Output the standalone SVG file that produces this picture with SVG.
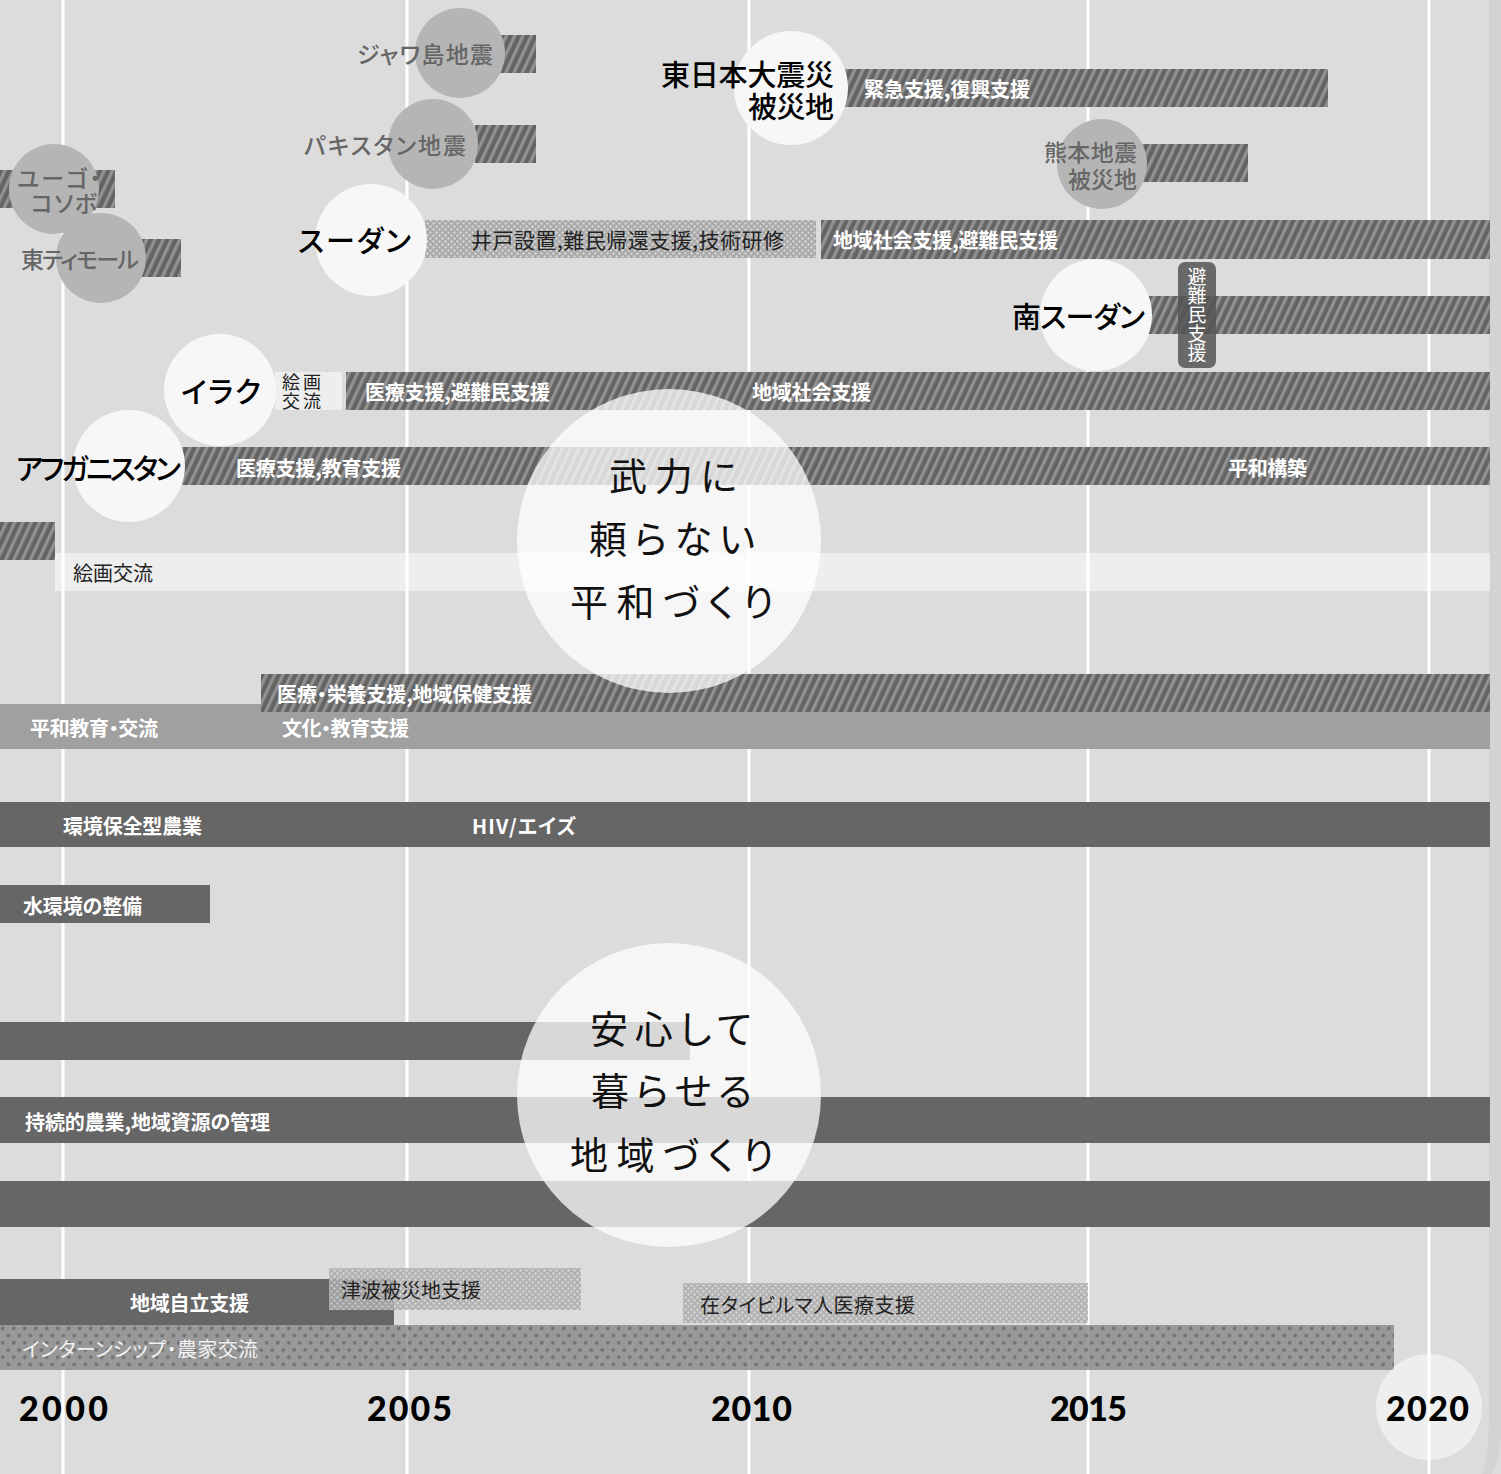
<svg xmlns="http://www.w3.org/2000/svg" width="1501" height="1474" viewBox="0 0 1501 1474">
<defs>
<style>
text{font-family:"Noto Sans CJK JP","Noto Sans CJK SC",sans-serif;dominant-baseline:central;font-feature-settings:"palt"}
#gridlines line{stroke:#fff;stroke-width:3}
.h{fill:url(#hatch)}
.d{fill:#666}
.g{fill:#a0a0a0}
.lt{fill:#fff;fill-opacity:.5}
.dl{fill:url(#dotL)}
.dlt{fill:url(#dotL);opacity:.85}
.dd{fill:url(#dotD);opacity:.85}
.wb{fill:#fff;font-weight:700;font-size:20px}
.dk{fill:#222;font-size:20px}
.gy{fill:#666;font-size:23px;font-weight:500}
.bk{fill:#000;font-size:29px;font-weight:500}
.gc{fill:#b5b5b5}
.wc{fill:#f7f7f7}
.big{fill:#fff;fill-opacity:.75}
.bt{fill:#111;font-size:38px}
.yr{font-family:Lato,"DejaVu Sans",sans-serif;font-weight:900;font-size:34px;fill:#000}
</style>
<pattern id="hatch" patternUnits="userSpaceOnUse" width="7.5" height="10" patternTransform="rotate(25)">
<rect width="7.5" height="10" fill="#646464"/>
<rect width="3.2" height="10" fill="#929292"/>
</pattern>
<pattern id="dotL" patternUnits="userSpaceOnUse" width="6" height="6">
<rect width="6" height="6" fill="#aaaaaa"/>
<circle cx="1.5" cy="1.5" r="1.2" fill="#d6d6d6"/>
<circle cx="4.5" cy="4.5" r="1.2" fill="#d6d6d6"/>
</pattern>
<pattern id="dotD" patternUnits="userSpaceOnUse" width="11" height="14.4">
<rect width="11" height="14.4" fill="#8d8d8d"/>
<circle cx="2.75" cy="3.6" r="2" fill="#626262"/>
<circle cx="8.25" cy="10.8" r="2" fill="#626262"/>
</pattern>
</defs>

<rect width="1501" height="1474" fill="#dcdcdc"/>
<path d="M1489,0 H1501 V1436 Q1499,1460 1492,1474 H1482 Q1489,1452 1489,1420 Z" fill="#d3d3d3"/>

<g id="gridlines">
<line x1="63" y1="0" x2="63" y2="1474"/>
<line x1="407" y1="0" x2="407" y2="1474"/>
<line x1="749" y1="0" x2="749" y2="1474"/>
<line x1="1088" y1="0" x2="1088" y2="1474"/>
<line x1="1429" y1="0" x2="1429" y2="1474"/>
</g>

<g id="java">
<rect class="h" x="500" y="35" width="36" height="38"/>
<circle class="gc" cx="460" cy="53" r="45"/>
<text class="gy" x="357" y="53" textLength="136">ジャワ島地震</text>
</g>

<g id="pakistan">
<rect class="h" x="475" y="125" width="61" height="38"/>
<circle class="gc" cx="433" cy="144" r="45"/>
<text class="gy" x="304" y="144" textLength="162">パキスタン地震</text>
</g>

<g id="higashi-nihon">
<rect class="h" x="845" y="69" width="483" height="38"/>
<circle class="wc" cx="791" cy="88" r="57"/>
<text class="bk"><tspan x="661" y="73" textLength="173">東日本大震災</tspan><tspan x="748" y="105" textLength="86">被災地</tspan></text>
<text class="wb" x="864" y="88" textLength="166">緊急支援,復興支援</text>
</g>

<g id="kumamoto">
<rect class="h" x="1140" y="144" width="108" height="38"/>
<circle class="gc" cx="1102" cy="164" r="45"/>
<text class="gy"><tspan x="1044" y="151" textLength="93">熊本地震</tspan><tspan x="1068" y="178" textLength="69">被災地</tspan></text>
</g>

<g id="yugo-kosovo">
<rect class="h" x="0" y="170" width="115" height="38"/>
<circle class="gc" cx="54" cy="189" r="45"/>
<text class="gy"><tspan x="17" y="177" textLength="84">ユーゴ・</tspan><tspan x="31" y="202" textLength="66">コソボ</tspan></text>
</g>

<g id="east-timor">
<rect class="h" x="135" y="239" width="46" height="38"/>
<circle class="gc" cx="101" cy="258" r="45"/>
<text class="gy" x="21" y="258" textLength="118">東ティモール</text>
</g>

<g id="sudan">
<rect class="dl" x="425" y="220" width="391" height="38"/>
<rect class="h" x="821" y="220" width="669" height="39"/>
<circle class="wc" cx="371" cy="240" r="56"/>
<text class="bk" x="298" y="239" textLength="113">スーダン</text>
<text class="dk" x="471" y="239" textLength="313" style="font-size:21px">井戸設置,難民帰還支援,技術研修</text>
<text class="wb" x="833" y="239" textLength="225">地域社会支援,避難民支援</text>
</g>

<g id="south-sudan">
<rect class="h" x="1148" y="296" width="342" height="38"/>
<circle class="wc" cx="1096" cy="315" r="56"/>
<text class="bk" x="1012" y="315" textLength="133">南スーダン</text>
<rect x="1178" y="262" width="38" height="106" rx="7" fill="#555" fill-opacity=".85"/>
<text x="1197" y="315" text-anchor="middle" style="fill:#fff;font-size:19px;writing-mode:vertical-rl;font-feature-settings:normal">避難民支援</text>
</g>

<g id="iraq">
<rect class="lt" x="275" y="372" width="67" height="38"/>
<rect class="h" x="346" y="372" width="1144" height="38"/>
<circle class="wc" cx="220" cy="390" r="56"/>
<text class="bk" x="181" y="390" textLength="80">イラク</text>
<text class="dk" style="font-size:18px"><tspan x="282" y="381" textLength="39">絵画</tspan><tspan x="282" y="400" textLength="39">交流</tspan></text>
<text class="wb" x="365" y="391" textLength="185">医療支援,避難民支援</text>
<text class="wb" x="752" y="391" textLength="119">地域社会支援</text>
</g>

<g id="afghanistan">
<rect class="h" x="180" y="447" width="1310" height="38"/>
<circle class="wc" cx="129" cy="466" r="56"/>
<text class="bk" x="16" y="467" textLength="165">アフガニスタン</text>
<text class="wb" x="236" y="467" textLength="165">医療支援,教育支援</text>
<text class="wb" x="1228" y="467" textLength="79">平和構築</text>
</g>

<g id="painting-exchange">
<rect class="h" x="0" y="522" width="55" height="38"/>
<rect class="lt" x="55" y="553" width="1435" height="38"/>
<text class="dk" x="73" y="572" textLength="80">絵画交流</text>
</g>

<g id="peace-education">
<rect class="g" x="0" y="704" width="1490" height="45"/>
<rect class="h" x="261" y="674" width="1229" height="38"/>
<text class="wb" x="277" y="693" textLength="255">医療・栄養支援,地域保健支援</text>
<text class="wb" x="30" y="727" textLength="128">平和教育・交流</text>
<text class="wb" x="282" y="727" textLength="127">文化・教育支援</text>
</g>

<g id="agriculture-hiv">
<rect class="d" x="0" y="802" width="1490" height="45"/>
<text class="wb" x="63" y="825" textLength="139">環境保全型農業</text>
<text class="wb" x="472" y="825" textLength="104">HIV/エイズ</text>
</g>

<g id="water">
<rect class="d" x="0" y="885" width="210" height="38"/>
<text class="wb" x="23" y="905" textLength="119">水環境の整備</text>
</g>

<g id="bar-a">
<rect class="d" x="0" y="1022" width="690" height="38"/>
</g>

<g id="sustainable-agriculture">
<rect class="d" x="0" y="1097" width="1490" height="46"/>
<text class="wb" x="25" y="1121" textLength="245">持続的農業,地域資源の管理</text>
</g>

<g id="bar-b">
<rect class="d" x="0" y="1181" width="1490" height="46"/>
</g>

<g id="self-reliance">
<rect class="d" x="0" y="1279" width="394" height="46"/>
<text class="wb" x="130" y="1302" textLength="119">地域自立支援</text>
</g>

<g id="tsunami">
<rect class="dlt" x="329" y="1268" width="252" height="42"/>
<text class="dk" x="341" y="1289" textLength="140">津波被災地支援</text>
</g>

<g id="burmese-medical">
<rect class="dlt" x="683" y="1283" width="405" height="40"/>
<text class="dk" x="700" y="1304" textLength="215">在タイビルマ人医療支援</text>
</g>

<g id="internship">
<rect class="dd" x="0" y="1325" width="1394" height="45"/>
<text x="22" y="1348" textLength="236" style="fill:#f2f2f2;font-size:20px">インターンシップ・農家交流</text>
</g>

<g id="theme-peace">
<circle class="big" cx="669" cy="541" r="152"/>
<text class="bt" x="609" y="473" textLength="128">武力に</text>
<text class="bt" x="589" y="536" textLength="166">頼らない</text>
<text class="bt" x="570" y="599" textLength="204">平和づくり</text>
</g>

<g id="theme-community">
<circle class="big" cx="669" cy="1095" r="152"/>
<text class="bt" x="590" y="1026" textLength="162">安心して</text>
<text class="bt" x="591" y="1088" textLength="161">暮らせる</text>
<text class="bt" x="570" y="1152" textLength="204">地域づくり</text>
</g>

<g id="years">
<circle cx="1429" cy="1407" r="53" fill="#fff" fill-opacity=".5"/>
<text class="yr" x="19" y="1407" textLength="89">2000</text>
<text class="yr" x="367" y="1407" textLength="85">2005</text>
<text class="yr" x="711" y="1407" textLength="81">2010</text>
<text class="yr" x="1050" y="1407" textLength="77">2015</text>
<text class="yr" x="1386" y="1407" textLength="83">2020</text>
</g>
</svg>
